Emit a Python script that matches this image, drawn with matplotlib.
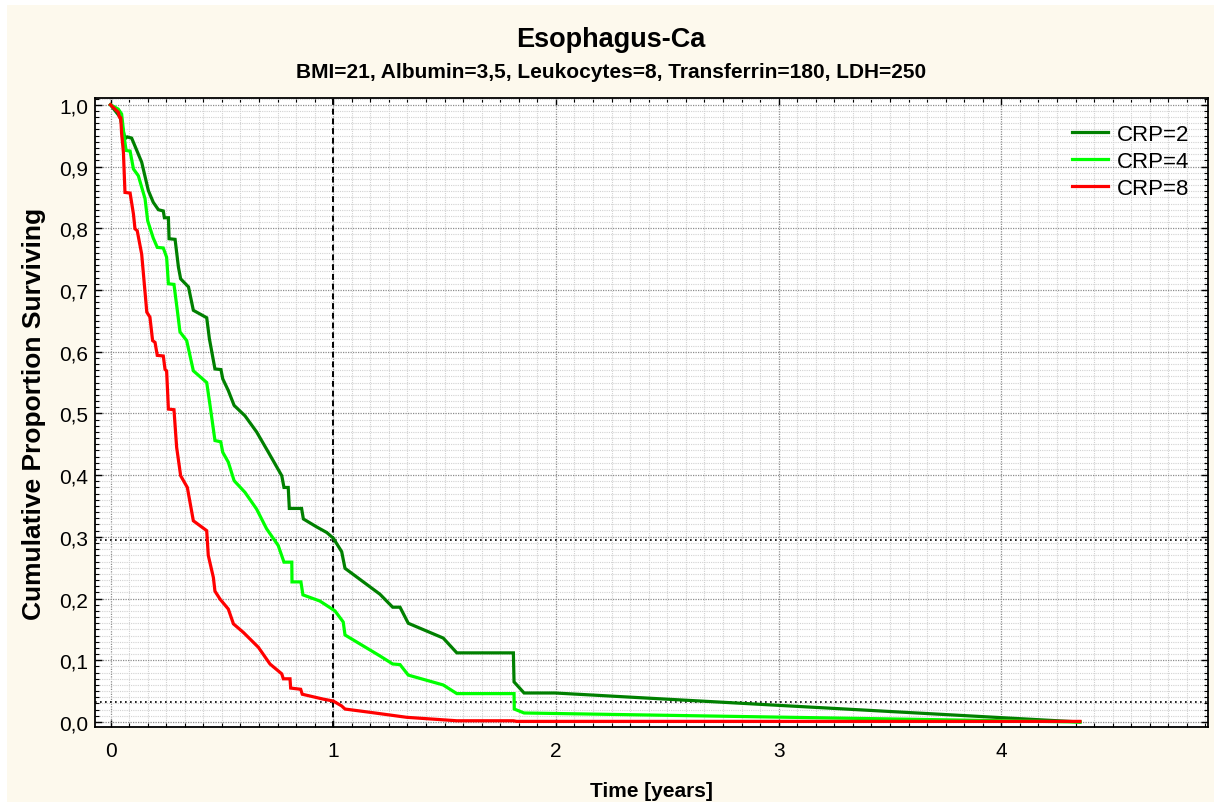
"""Esophagus-Ca: cumulative proportion surviving for three CRP levels."""

import matplotlib

matplotlib.use("Agg")
import matplotlib.pyplot as plt
from matplotlib.patches import Rectangle
from matplotlib.ticker import FuncFormatter, MultipleLocator

plt.rcParams["font.family"] = ["Liberation Sans", "DejaVu Sans"]

TITLE = "Esophagus-Ca"
SUBTITLE = "BMI=21, Albumin=3,5, Leukocytes=8, Transferrin=180, LDH=250"

# CRP=2 (dark green)
T_CRP2 = [0.0, 0.043, 0.065, 0.075, 0.095, 0.14, 0.17, 0.192, 0.215, 0.237, 0.242,
          0.26, 0.263, 0.29, 0.305, 0.315, 0.35, 0.372, 0.432, 0.444, 0.469, 0.496,
          0.504, 0.529, 0.555, 0.604, 0.656, 0.709, 0.769, 0.779, 0.798, 0.803,
          0.858, 0.866, 0.926, 0.971, 1.0, 1.038, 1.053, 1.21, 1.267, 1.3, 1.337,
          1.494, 1.555, 1.809, 1.812, 1.857, 1.996, 4.353]
S_CRP2 = [1.0, 0.98, 0.945, 0.948, 0.946, 0.907, 0.861, 0.842, 0.83, 0.828, 0.817,
          0.817, 0.783, 0.782, 0.737, 0.718, 0.705, 0.667, 0.655, 0.621, 0.572, 0.571,
          0.556, 0.537, 0.513, 0.496, 0.47, 0.437, 0.399, 0.38, 0.38, 0.346,
          0.346, 0.329, 0.316, 0.307, 0.298, 0.276, 0.249, 0.207, 0.186, 0.186, 0.16,
          0.136, 0.112, 0.112, 0.065, 0.047, 0.047, 0.0]

# CRP=4 (light green)
T_CRP4 = [0.0, 0.035, 0.05, 0.061, 0.07, 0.088, 0.103, 0.125, 0.155, 0.167, 0.192,
          0.21, 0.237, 0.252, 0.26, 0.285, 0.3, 0.312, 0.342, 0.372, 0.432, 0.447,
          0.469, 0.495, 0.504, 0.529, 0.555, 0.604, 0.656, 0.701, 0.753, 0.779,
          0.814, 0.815, 0.855, 0.864, 0.94, 1.008, 1.045, 1.053, 1.21, 1.267, 1.3,
          1.337, 1.494, 1.555, 1.812, 1.813, 1.857, 4.353]
S_CRP4 = [1.0, 0.993, 0.985, 0.949, 0.926, 0.925, 0.896, 0.885, 0.848, 0.812, 0.784,
          0.769, 0.768, 0.753, 0.71, 0.709, 0.667, 0.632, 0.618, 0.569, 0.55, 0.513,
          0.456, 0.454, 0.437, 0.421, 0.391, 0.372, 0.345, 0.313, 0.286, 0.259,
          0.259, 0.227, 0.227, 0.206, 0.196, 0.18, 0.162, 0.141, 0.107, 0.094, 0.093,
          0.076, 0.06, 0.046, 0.046, 0.021, 0.0146, 0.0]

# CRP=8 (red)
T_CRP8 = [0.0, 0.02, 0.035, 0.04, 0.046, 0.05, 0.058, 0.065, 0.088, 0.103, 0.11,
          0.12, 0.14, 0.163, 0.177, 0.189, 0.2, 0.21, 0.237, 0.245, 0.252, 0.26,
          0.285, 0.297, 0.315, 0.345, 0.372, 0.432, 0.439, 0.462, 0.469, 0.492,
          0.529, 0.552, 0.597, 0.664, 0.716, 0.769, 0.776, 0.806, 0.809, 0.854,
          0.861, 0.956, 1.0, 1.038, 1.053, 1.165, 1.277, 1.33, 1.555, 1.809, 1.824,
          4.353]
S_CRP8 = [1.0, 0.993, 0.988, 0.98, 0.979, 0.953, 0.923, 0.858, 0.857, 0.823, 0.799,
          0.796, 0.758, 0.664, 0.656, 0.618, 0.615, 0.594, 0.593, 0.571, 0.569, 0.507,
          0.506, 0.445, 0.399, 0.38, 0.326, 0.31, 0.27, 0.234, 0.212, 0.199,
          0.183, 0.159, 0.145, 0.121, 0.094, 0.078, 0.07, 0.07, 0.055, 0.053,
          0.045, 0.037, 0.034, 0.026, 0.021, 0.0157, 0.0102, 0.0076, 0.002, 0.002,
          0.001, 0.001]

REF_TIME = 1.0
REF_LEVELS = [0.295, 0.033]

SERIES = [
    ("CRP=2", T_CRP2, S_CRP2, "#008000"),
    ("CRP=4", T_CRP4, S_CRP4, "#00FF00"),
    ("CRP=8", T_CRP8, S_CRP8, "#FF0000"),
]

BG = "#FDF9ED"


def comma(v, _pos):
    return f"{v:.1f}".replace(".", ",")


def main() -> None:
    fig = plt.figure(figsize=(12.14, 8.03), dpi=100, facecolor="white")
    fig.patches.append(Rectangle((7 / 1214, 0), 1, 1 - 6 / 803, transform=fig.transFigure,
                                 facecolor=BG, edgecolor="none", zorder=-10))
    ax = fig.add_axes([95 / 1214, 1 - 728 / 803, (1208 - 95) / 1214, (728 - 99) / 803])
    ax.set_facecolor("white")

    for label, t, s, color in SERIES:
        ax.plot(t, s, color=color, linewidth=2.3, label=label, zorder=5,
                solid_joinstyle="miter")

    ax.axvline(REF_TIME, color="black", linestyle=(0, (3, 2)), linewidth=1.4, zorder=4)
    for lvl in REF_LEVELS:
        ax.axhline(lvl, color="black", linestyle=(0, (1, 2)), linewidth=1.2, zorder=4)

    ax.set_xlim(-0.0696, 4.928)
    ax.set_ylim(-0.0081, 1.011)
    ax.xaxis.set_major_locator(MultipleLocator(1))
    ax.xaxis.set_minor_locator(MultipleLocator(1 / 12))
    ax.yaxis.set_major_locator(MultipleLocator(0.1))
    ax.yaxis.set_minor_locator(MultipleLocator(0.01))
    ax.yaxis.set_major_formatter(FuncFormatter(comma))

    ax.grid(which="minor", color="#d2d2d2", linestyle=(0, (1, 1)), linewidth=0.8)
    ax.grid(which="major", color="#8c8c8c", linestyle=(0, (1, 1)), linewidth=0.9)
    ax.set_axisbelow(True)

    ax.tick_params(which="both", direction="in", top=True, right=True, labelsize=15,
                   color="black")
    ax.tick_params(which="major", length=5, width=1)
    ax.tick_params(which="minor", length=3, width=0.8)
    ax.tick_params(axis="x", pad=10)
    ax.tick_params(axis="y", pad=5)
    for sp in ax.spines.values():
        sp.set_linewidth(1.3)

    ax.set_xlabel("Time [years]", fontsize=15, fontweight="bold", labelpad=15)
    ax.set_ylabel("Cumulative Proportion Surviving", fontsize=19, fontweight="bold",
                  labelpad=9)

    cx = 611 / 1214
    fig.text(cx, 1 - 40 / 803, TITLE, ha="center", va="center",
             fontsize=19.5, fontweight="bold")
    fig.text(cx, 1 - 72 / 803, SUBTITLE, ha="center", va="center",
             fontsize=15, fontweight="bold")

    ax.legend(loc="upper left", bbox_to_anchor=((1072 - 95) / 1113, 1 - (125 - 99) / 629),
              frameon=False, fontsize=16, handlelength=1.6, handletextpad=0.4,
              labelspacing=0.26, borderaxespad=0, borderpad=0)

    fig.savefig("out.png", dpi=100, facecolor=fig.get_facecolor())
    plt.close(fig)


if __name__ == "__main__":
    main()
